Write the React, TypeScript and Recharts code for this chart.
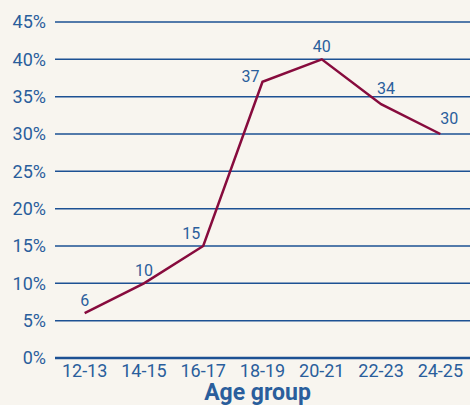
import * as React from 'react';
import {
    LineChart,
    Line,
    XAxis,
    YAxis,
    CartesianGrid,
    LabelList
} from 'recharts';

// age bands on the x axis
const ageGroups = ['12-13', '14-15', '16-17', '18-19', '20-21', '22-23', '24-25'];
// share of respondents, in percent
const shares = [6, 10, 15, 37, 40, 34, 30];
const yTicks = [0, 5, 10, 15, 20, 25, 30, 35, 40, 45];

const data = ageGroups.map((group, i) => ({ group, share: shares[i] }));

const BLUE = '#2a5e9c';
const GRID = '#1d5193';
const LINE = '#870b3d';
const FONT = 'Roboto, "DejaVu Sans", sans-serif';

// value labels: nudge left where the line climbs, right where it falls
const ValueLabel = (props: any) => {
    const { x, y, value, index } = props;
    const prev = index > 0 ? shares[index - 1] : value;
    let dx = 0;
    let dy = -7;
    if (value - prev >= 5) dx = -12;
    if (value - prev >= 15) dy = 0;
    if (value < prev) {
        dx = 5;
        dy = -10;
    }
    if (index === shares.length - 1) dx = 9;
    return (
        <text
            x={x + dx}
            y={y + dy}
            textAnchor="middle"
            fill={BLUE}
            fontSize={16}
            fontFamily={FONT}
        >
            {value}
        </text>
    );
};

const App: React.FC = () => {
    return (
        <div style={{ position: 'absolute', top: 0, left: 0, width: 470, height: 405, background: '#f8f5ef' }}>
            <LineChart
                width={470}
                height={405}
                data={data}
                margin={{ top: 22, right: 0, left: 0, bottom: 0 }}
            >
                <CartesianGrid vertical={false} stroke={GRID} strokeWidth={1.5} />
                <XAxis
                    dataKey="group"
                    scale="band"
                    height={47}
                    tickLine={false}
                    tickSize={0}
                    tickMargin={6}
                    axisLine={{ stroke: GRID, strokeWidth: 2.5 }}
                    tick={{ fill: BLUE, fontSize: 18, fontFamily: FONT }}
                    interval={0}
                    label={{
                        value: 'Age group',
                        position: 'insideBottom',
                        offset: 5,
                        dx: -5,
                        fill: BLUE,
                        fontSize: 23,
                        fontWeight: 'bold',
                        fontFamily: FONT
                    }}
                />
                <YAxis
                    width={55}
                    domain={[0, 45]}
                    ticks={yTicks}
                    tickFormatter={(v: number) => `${v}%`}
                    axisLine={false}
                    tickLine={false}
                    tickSize={0}
                    tickMargin={9}
                    tick={{ fill: BLUE, fontSize: 18, fontFamily: FONT }}
                />
                <Line
                    type="linear"
                    dataKey="share"
                    stroke={LINE}
                    strokeWidth={2.5}
                    dot={false}
                    activeDot={false}
                    isAnimationActive={false}
                >
                    <LabelList dataKey="share" content={<ValueLabel />} />
                </Line>
            </LineChart>
        </div>
    );
};

export default App;
